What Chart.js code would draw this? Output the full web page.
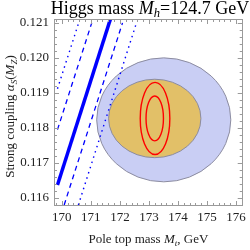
<!DOCTYPE html>
<html>
<head>
    <title>Higgs mass</title>
    <script src="https://cdn.jsdelivr.net/npm/chart.js@4"></script>
    <style>
        body { margin: 0; background: #fff; }
        #wrap { width: 250px; height: 250px; }
    </style>
</head>
<body>
<div id="wrap"><canvas id="myChart" width="250" height="250"></canvas></div>
<script>
    // tick labels
    const xTicks = [170, 171, 172, 173, 174, 175, 176];
    const yTicks = [0.116, 0.117, 0.118, 0.119, 0.120, 0.121];

    // blue stability lines (Mt, alpha_s at both ends)
    const lineMtStart = [169.85, 169.85, 169.85, 170.08, 170.57];
    const lineAsStart = [0.11912, 0.11795, 0.11637, 0.1158, 0.1158];
    const lineMtEnd = [170.58, 171.03, 171.67, 172.09, 172.57];
    const lineAsEnd = [0.1210, 0.1210, 0.1211, 0.1210, 0.1210];
    const lineKind = ['dotted', 'dashed', 'solid', 'dashed', 'dotted'];

    // ellipses: outer blue, orange, two red
    const ellMt = [173.51, 173.20, 173.21, 173.20];
    const ellAs = [0.11823, 0.11827, 0.11827, 0.11827];
    const ellHalfMt = [2.31, 1.59, 0.51, 0.30];
    const ellHalfAs = [0.00177, 0.00112, 0.00103, 0.00064];

    const serif = '"Liberation Serif", "DejaVu Serif", serif';

    function styleFor(kind) {
        if (kind === 'solid') return {borderWidth: 3.5, borderDash: []};
        if (kind === 'dashed') return {borderWidth: 1.3, borderDash: [5, 4]};
        return {borderWidth: 1.4, borderDash: [1.5, 4]};
    }

    const datasets = lineKind.map((kind, i) => Object.assign({
        data: [{x: lineMtStart[i], y: lineAsStart[i]}, {x: lineMtEnd[i], y: lineAsEnd[i]}],
        showLine: true,
        borderColor: '#0000ff',
        pointRadius: 0,
        borderCapStyle: 'butt'
    }, styleFor(kind)));

    // rich text: [text, italic, subscript]
    function drawRich(ctx, parts, x, y, size) {
        const fontOf = p => (p[1] ? 'italic ' : '') + (p[2] ? size * 0.7 : size) + 'px ' + serif;
        let w = 0;
        parts.forEach(p => { ctx.font = fontOf(p); w += ctx.measureText(p[0]).width; });
        let cx = x - w / 2;
        ctx.textBaseline = 'middle';
        ctx.textAlign = 'left';
        parts.forEach(p => {
            ctx.font = fontOf(p);
            ctx.fillText(p[0], cx, p[2] ? y + size * 0.28 : y);
            cx += ctx.measureText(p[0]).width;
        });
    }

    const ellipsePlugin = {
        id: 'ellipses',
        beforeDatasetsDraw(chart) {
            const ctx = chart.ctx, xs = chart.scales.x, ys = chart.scales.y, a = chart.chartArea;
            const fills = ['#c9cef4', '#e2c068', null, null];
            ctx.save();
            ctx.beginPath();
            ctx.rect(a.left, a.top, a.right - a.left, a.bottom - a.top);
            ctx.clip();
            for (let i = 0; i < ellMt.length; i++) {
                const cx = xs.getPixelForValue(ellMt[i]);
                const cy = ys.getPixelForValue(ellAs[i]);
                const rx = Math.abs(xs.getPixelForValue(ellMt[i] + ellHalfMt[i]) - cx);
                const ry = Math.abs(ys.getPixelForValue(ellAs[i] + ellHalfAs[i]) - cy);
                ctx.beginPath();
                ctx.ellipse(cx, cy, rx, ry, 0, 0, Math.PI * 2);
                if (fills[i]) {
                    ctx.fillStyle = fills[i];
                    ctx.fill();
                    ctx.strokeStyle = '#8c8ca0';
                    ctx.lineWidth = 1;
                } else {
                    ctx.strokeStyle = '#ff0000';
                    ctx.lineWidth = 1.4;
                }
                ctx.stroke();
            }
            ctx.restore();
        },
        afterDraw(chart) {
            const ctx = chart.ctx, xs = chart.scales.x, ys = chart.scales.y, a = chart.chartArea;
            ctx.save();
            ctx.strokeStyle = '#9a9a9a';
            ctx.lineWidth = 1;
            ctx.strokeRect(Math.round(a.left) + 0.5, Math.round(a.top) + 0.5,
                Math.round(a.right - a.left) - 1, Math.round(a.bottom - a.top) - 1);
            ctx.beginPath();
            // x ticks, every 0.2 GeV
            for (let k = 849; k <= 881; k++) {
                const v = k / 5;
                const px = Math.round(xs.getPixelForValue(v)) + 0.5;
                if (px < a.left || px > a.right) continue;
                const len = (k % 5 === 0) ? 5 : 3;
                ctx.moveTo(px, a.bottom); ctx.lineTo(px, a.bottom - len);
                ctx.moveTo(px, a.top); ctx.lineTo(px, a.top + len);
            }
            // y ticks, every 0.0002
            for (let k = 578; k <= 606; k++) {
                const v = k / 5000;
                const py = Math.round(ys.getPixelForValue(v)) + 0.5;
                if (py < a.top || py > a.bottom) continue;
                const len = (k % 5 === 0) ? 5 : 3;
                ctx.moveTo(a.left, py); ctx.lineTo(a.left + len, py);
                ctx.moveTo(a.right, py); ctx.lineTo(a.right - len, py);
            }
            ctx.stroke();

            ctx.fillStyle = '#000';
            drawRich(ctx, [['Higgs mass ', false, false], ['M', true, false], ['h', true, true],
                ['=124.7 GeV', false, false]], 150, 9, 18);
            ctx.fillStyle = '#222';
            drawRich(ctx, [['Pole top mass ', false, false], ['M', true, false], ['t', true, true],
                [', GeV', false, false]], (a.left + a.right) / 2, 240, 13);
            ctx.translate(11, (a.top + a.bottom) / 2 + 4);
            ctx.rotate(-Math.PI / 2);
            drawRich(ctx, [['Strong coupling ', false, false], ['\u03b1', true, false], ['S', true, true],
                ['(', false, false], ['M', true, false], ['Z', true, true], [')', false, false]], 0, 0, 13);
            ctx.restore();
        }
    };

    const chart = new Chart(document.getElementById('myChart'), {
        type: 'scatter',
        data: {datasets: datasets},
        options: {
            responsive: false,
            animation: false,
            layout: {padding: {left: 0, right: 6, top: 19, bottom: 0}},
            plugins: {legend: {display: false}, tooltip: {enabled: false}},
            scales: {
                x: {
                    type: 'linear', min: 169.73, max: 176.23,
                    afterBuildTicks: s => { s.ticks = xTicks.map(v => ({value: v})); },
                    afterFit: s => { s.height = 44; },
                    grid: {display: false, drawTicks: false},
                    border: {display: false},
                    ticks: {color: '#222', padding: 4, font: {family: serif, size: 13},
                        callback: v => String(v)}
                },
                y: {
                    type: 'linear', min: 0.11577, max: 0.12111,
                    afterBuildTicks: s => { s.ticks = yTicks.map(v => ({value: v})); },
                    afterFit: s => { s.width = 54; },
                    grid: {display: false, drawTicks: false},
                    border: {display: false},
                    ticks: {color: '#222', padding: 5, font: {family: serif, size: 13},
                        callback: v => v.toFixed(3)}
                }
            }
        },
        plugins: [ellipsePlugin]
    });
</script>
</body>
</html>
